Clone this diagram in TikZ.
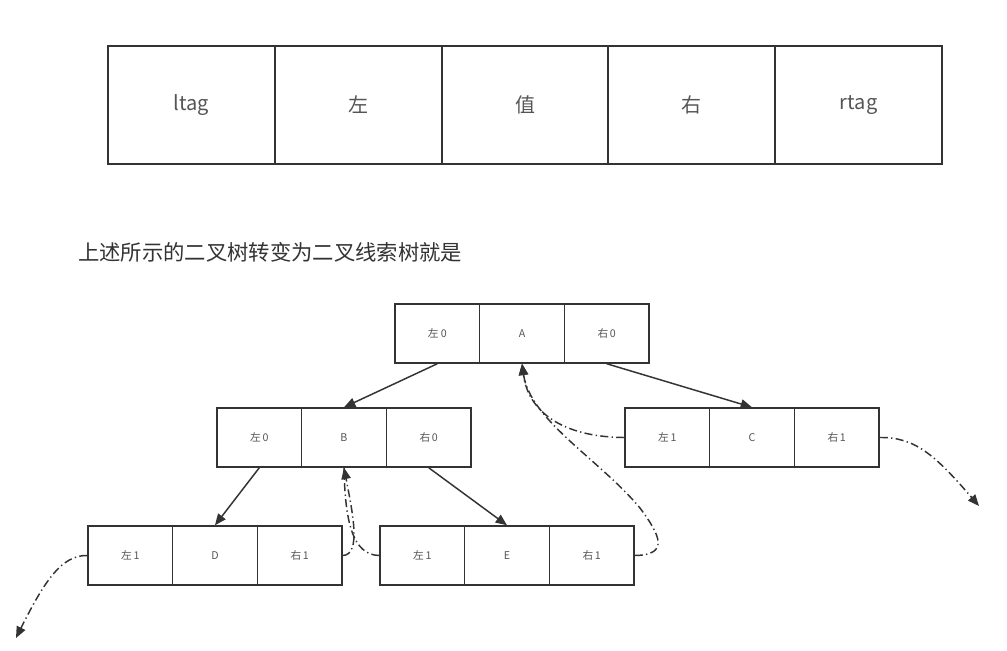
\documentclass[tikz,border=0pt]{standalone}
\usepackage{fontspec}
\setmainfont{Noto Sans CJK SC}
\usetikzlibrary{arrows.meta}
\definecolor{ln}{HTML}{333333}
\definecolor{tx}{HTML}{555555}
\definecolor{cap}{HTML}{333333}
\begin{document}
\begin{tikzpicture}[x=0.75pt,y=-0.75pt,
  bigcell/.style={draw=ln, line width=1.5pt, minimum width=125.1pt, minimum height=88.5pt, inner sep=0pt, font=\fontsize{15}{18}\selectfont, text=tx},
  cell/.style={draw=ln, line width=1.1pt, minimum width=63.5pt, minimum height=44.25pt, inner sep=0pt, font=\fontsize{8}{10}\selectfont, text=tx},
  tree/.style={draw=ln, line width=1.1pt, -{Triangle[length=8.5pt,width=7pt]}},
  thread/.style={draw=ln, line width=1.1pt, dash pattern=on 6pt off 2.5pt on 1pt off 2.5pt, -{Triangle[length=8.5pt,width=7pt]}},
  threadnt/.style={draw=ln, line width=1.1pt, dash pattern=on 6pt off 2.5pt on 1pt off 2.5pt}
]
\useasboundingbox (0,0) rectangle (1007,650);
\fill[white] (0,0) rectangle (1007,650);

% top table
\node[bigcell] (t1) at (191.4,105) {ltag};
\node[bigcell] (t2) at (358.2,105) {左};
\node[bigcell] (t3) at (525,105) {值};
\node[bigcell] (t4) at (691.8,105) {右};
\node[bigcell] (t5) at (858.6,105) {rtag};

% caption
\node[anchor=west, inner sep=0pt, font=\fontsize{16}{19}\selectfont, text=cap] (cap) at (78,252) {上述所示的二叉树转变为二叉线索树就是};

% A
\node[cell] (Al) at (437.3,333.5) {左 0};
\node[cell] (Am) at (522,333.5) {A};
\node[cell] (Ar) at (606.7,333.5) {右\,0};
% B
\node[cell] (Bl) at (259.3,437.5) {左\,0};
\node[cell] (Bm) at (344,437.5) {B};
\node[cell] (Br) at (428.7,437.5) {右\,0};
% C
\node[cell] (Cl) at (667.3,437.5) {左\,1};
\node[cell] (Cm) at (752,437.5) {C};
\node[cell] (Cr) at (836.7,437.5) {右\,1};
% D
\node[cell] (Dl) at (130.3,555.5) {左\,1};
\node[cell] (Dm) at (215,555.5) {D};
\node[cell] (Dr) at (299.7,555.5) {右\,1};
% E
\node[cell] (El) at (422.3,555.5) {左\,1};
\node[cell] (Em) at (507,555.5) {E};
\node[cell] (Er) at (591.7,555.5) {右\,1};

\coordinate (dend) at (16,638);
\coordinate (cend) at (979,506);

% tree edges
\draw[tree] (Al.south) -- (Bm.north);
\draw[tree] (Ar.south) -- (Cm.north);
\draw[tree] (Bl.south) -- (Dm.north);
\draw[tree] (Br.south) -- (Em.north);

% threads
\draw[thread] (Dl.west) .. controls (62,555) and (45,580) .. (dend);
\draw[thread] (Dr.east) .. controls (362,555) and (352,510) .. (Bm.south);
\draw[threadnt] (El.west) .. controls (352,555) and (345,520) .. (Bm.south);
\draw[thread] (Er.east) .. controls (670,555) and (660,535) .. (640,508)
   .. controls (600,460) and (530,420) .. (Am.south);
\draw[thread] (Cl.west) .. controls (560,437) and (528,410) .. (Am.south);
\draw[thread] (Cr.east) .. controls (915,437) and (935,455) .. (cend);
\end{tikzpicture}
\end{document}
